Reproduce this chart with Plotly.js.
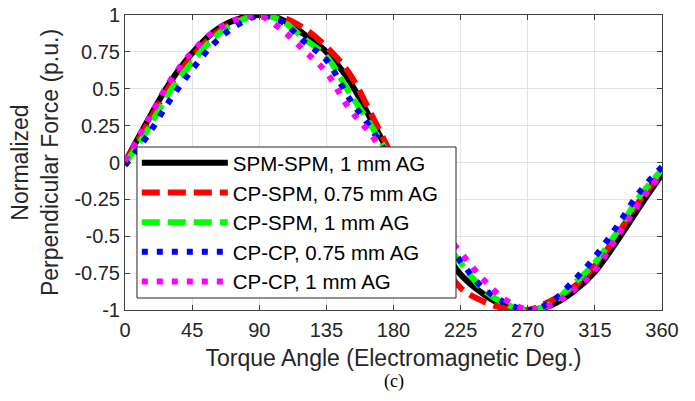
<!DOCTYPE html>
<html>
<head>
<meta charset="utf-8">
<script src="https://cdn.plot.ly/plotly-3.0.1.min.js"></script>
<style>html,body{margin:0;padding:0;background:#fff;}#chart{width:695px;height:401px;}</style>
</head>
<body>
<div id="chart"></div>
<script>
// Torque angle (electromagnetic degrees)
const angle = [0,15,30,45,60,75,90,105,120,135,150,165,180,195,210,225,240,255,270,285,300,315,330,345,360];

// Normalized perpendicular force (p.u.)
const spmSpm1mm = [0.00,0.28,0.54,0.74,0.89,0.97,1.00,0.97,0.87,0.75,0.56,0.29,0.01,-0.27,-0.53,-0.76,-0.89,-0.975,-1.00,-0.97,-0.88,-0.74,-0.53,-0.30,-0.08];
const cpSpm075mm = [0.00,0.26,0.52,0.72,0.87,0.96,1.00,0.985,0.91,0.785,0.61,0.33,0.02,-0.32,-0.62,-0.85,-0.94,-0.99,-1.00,-0.94,-0.85,-0.70,-0.49,-0.26,-0.06];
const cpSpm1mm = [-0.01,0.22,0.48,0.68,0.85,0.95,1.00,0.96,0.84,0.72,0.48,0.25,0.00,-0.25,-0.48,-0.68,-0.86,-0.96,-1.00,-0.96,-0.83,-0.68,-0.47,-0.23,-0.05];
const cpCp075mm = [-0.02,0.18,0.42,0.63,0.81,0.93,0.995,0.955,0.82,0.695,0.44,0.23,-0.01,-0.24,-0.47,-0.67,-0.85,-0.95,-1.00,-0.95,-0.81,-0.64,-0.43,-0.20,-0.03];
const cpCp1mm = [0.01,0.28,0.55,0.75,0.89,0.97,0.995,0.90,0.76,0.61,0.37,0.19,-0.04,-0.20,-0.42,-0.61,-0.79,-0.93,-0.995,-0.97,-0.87,-0.73,-0.50,-0.27,-0.07];

const seriesNames = ["SPM-SPM, 1 mm AG","CP-SPM, 0.75 mm AG","CP-SPM, 1 mm AG","CP-CP, 0.75 mm AG","CP-CP, 1 mm AG"];
const xTicks = [0,45,90,135,180,225,270,315,360];
const yTicks = [-1,-0.75,-0.5,-0.25,0,0.25,0.5,0.75,1];

const styles = [
  {color:"#000000", width:6, dash:"solid"},
  {color:"#ff0000", width:6, dash:"18px,8px"},
  {color:"#00ff00", width:6, dash:"18px,8px"},
  {color:"#0000ff", width:6, dash:"6px,9px"},
  {color:"#ff00ff", width:6, dash:"6px,9px"}
];
const ys = [spmSpm1mm, cpSpm075mm, cpSpm1mm, cpCp075mm, cpCp1mm];

const traces = ys.map((y,i)=>({
  x: angle, y: y, type:"scatter", mode:"lines", name: seriesNames[i],
  line: {color: styles[i].color, width: styles[i].width, dash: styles[i].dash, shape:"spline", smoothing:1}
}));

const FONT = "Liberation Sans, Arial, sans-serif";
const axisCommon = {
  showline:true, linecolor:"#404040", linewidth:1, mirror:"ticks",
  ticks:"inside", ticklen:5, tickcolor:"#404040",
  showgrid:true, gridcolor:"#e3e3e3", gridwidth:1,
  zeroline:false,
  tickfont:{family:FONT, size:20, color:"#262626"}
};

const layout = {
  width:695, height:401,
  margin:{l:125, r:33, t:15, b:91},
  paper_bgcolor:"#ffffff", plot_bgcolor:"#ffffff",
  showlegend:true,
  xaxis: Object.assign({}, axisCommon, {
    range:[0,360], tickmode:"array", tickvals:xTicks, ticktext:xTicks.map(String),
    ticklabelstandoff:2,
    title:{text:"Torque Angle (Electromagnetic Deg.)", font:{family:FONT, size:23, color:"#262626"}, standoff:9}
  }),
  yaxis: Object.assign({}, axisCommon, {
    range:[-1,1], tickmode:"array", tickvals:yTicks, ticktext:yTicks.map(String),
    title:{text:"Normalized<br>Perpendicular Force (p.u.)", font:{family:FONT, size:23, color:"#262626"}, standoff:9}
  }),
  legend:{
    x:0.022, y:0.566, xanchor:"left", yanchor:"top",
    bgcolor:"rgba(0,0,0,0)", bordercolor:"rgba(0,0,0,0)", borderwidth:0,
    font:{family:FONT, size:20.5, color:"#000000"},
    itemwidth:86, tracegroupgap:0
  },
  shapes:[{
    type:"rect", xref:"paper", yref:"paper", layer:"above",
    x0:0.0223, x1:0.6164, y0:0.0407, y1:0.5525,
    fillcolor:"#ffffff", line:{color:"#262626", width:1}
  }],
  annotations:[{
    text:"(c)", xref:"paper", yref:"paper", x:0.5, y:-0.2, xanchor:"center", yanchor:"top",
    showarrow:false, font:{family:"Liberation Serif, Times New Roman, serif", size:18, color:"#000000"}
  }]
};

Plotly.newPlot("chart", traces, layout, {displayModeBar:false, staticPlot:true});
</script>
</body>
</html>
